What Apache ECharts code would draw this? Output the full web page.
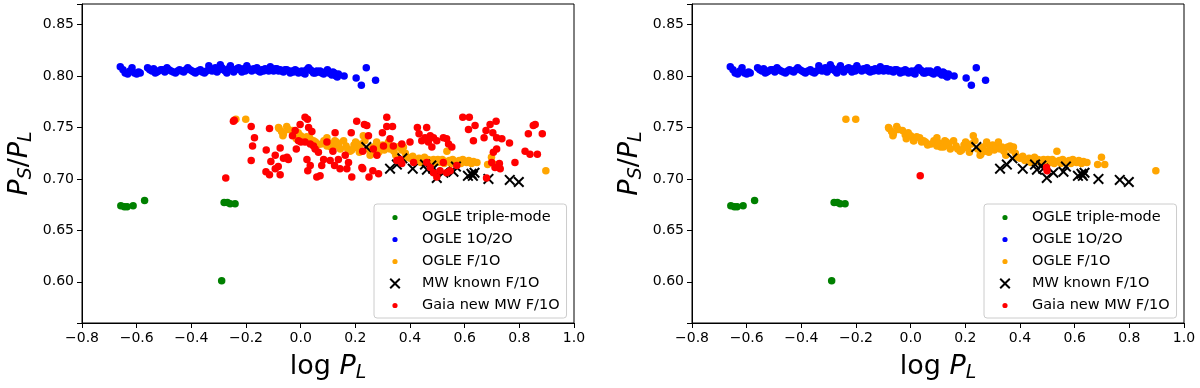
<!DOCTYPE html>
<html>
<head>
<meta charset="utf-8">
<script src="https://cdn.jsdelivr.net/npm/echarts@6/dist/echarts.min.js"></script>
<style>
html, body { margin: 0; padding: 0; background: #fff; }
#chart { width: 1200px; height: 388px; }
</style>
</head>
<body>
<div id="chart"></div>
<script>
// series names and colours (matplotlib named colours)
var names = ['OGLE triple-mode', 'OGLE 1O/2O', 'OGLE F/1O', 'MW known F/1O', 'Gaia new MW F/1O'];
var colors = ['#008000', '#0000ff', '#ffa500', '#000000', '#ff0000'];

// axis ranges
var xMin = -0.8, xMax = 1.0, xStep = 0.2;
var yMin = 0.56, yMax = 0.87, yStep = 0.05;

// [log P_L, P_S/P_L]
var tripleMode = [
    [-0.658, 0.674], [-0.645, 0.673], [-0.635, 0.673], [-0.613, 0.674], [-0.571, 0.679],
    [-0.280, 0.677], [-0.268, 0.677], [-0.258, 0.676], [-0.240, 0.676], [-0.289, 0.601]
];

var ogle1O2O = [
    [-0.660, 0.809], [-0.650, 0.806], [-0.642, 0.803], [-0.633, 0.802], [-0.625, 0.805], [-0.617, 0.808], [-0.608, 0.803], [-0.600, 0.802], [-0.593, 0.804], [-0.587, 0.803],
    [-0.560, 0.808], [-0.552, 0.806], [-0.544, 0.805], [-0.538, 0.807], [-0.532, 0.803], [-0.526, 0.804], [-0.520, 0.805], [-0.512, 0.806], [-0.504, 0.806], [-0.497, 0.804],
    [-0.489, 0.808], [-0.482, 0.806], [-0.474, 0.805], [-0.466, 0.804], [-0.458, 0.803], [-0.450, 0.805], [-0.443, 0.806], [-0.435, 0.805], [-0.428, 0.804], [-0.420, 0.806],
    [-0.413, 0.808], [-0.405, 0.806], [-0.397, 0.805], [-0.391, 0.804], [-0.385, 0.803], [-0.376, 0.805], [-0.367, 0.806], [-0.360, 0.804], [-0.352, 0.803], [-0.344, 0.805],
    [-0.336, 0.810], [-0.330, 0.807], [-0.324, 0.805], [-0.318, 0.806], [-0.312, 0.808], [-0.306, 0.804], [-0.300, 0.806], [-0.294, 0.811], [-0.288, 0.808], [-0.282, 0.806],
    [-0.276, 0.805], [-0.270, 0.803], [-0.264, 0.807], [-0.257, 0.810], [-0.250, 0.806], [-0.245, 0.804], [-0.239, 0.806], [-0.233, 0.807], [-0.227, 0.808], [-0.221, 0.806],
    [-0.215, 0.804], [-0.209, 0.807], [-0.203, 0.805], [-0.197, 0.810], [-0.190, 0.807], [-0.184, 0.806], [-0.179, 0.805], [-0.172, 0.807], [-0.166, 0.806], [-0.160, 0.808],
    [-0.154, 0.805], [-0.148, 0.804], [-0.142, 0.806], [-0.136, 0.805], [-0.130, 0.807], [-0.124, 0.806], [-0.117, 0.805], [-0.111, 0.809], [-0.105, 0.806], [-0.099, 0.805],
    [-0.093, 0.807], [-0.087, 0.807], [-0.081, 0.805], [-0.075, 0.806], [-0.069, 0.805], [-0.063, 0.804], [-0.057, 0.806], [-0.051, 0.806], [-0.044, 0.805], [-0.038, 0.803],
    [-0.032, 0.805], [-0.026, 0.804], [-0.020, 0.806], [-0.014, 0.805], [-0.008, 0.803], [-0.002, 0.804], [0.004, 0.805], [0.010, 0.803], [0.016, 0.802], [0.022, 0.806],
    [0.029, 0.808], [0.035, 0.806], [0.041, 0.805], [0.047, 0.803], [0.053, 0.803], [0.059, 0.805], [0.065, 0.804], [0.071, 0.805], [0.077, 0.803], [0.084, 0.802],
    [0.090, 0.804], [0.098, 0.806], [0.103, 0.803], [0.108, 0.803], [0.114, 0.801], [0.118, 0.804], [0.123, 0.803], [0.126, 0.801], [0.130, 0.800], [0.134, 0.799],
    [0.138, 0.802], [0.159, 0.800], [0.203, 0.798], [0.222, 0.791], [0.240, 0.808], [0.274, 0.796]
];

var ogleF1O = [
    [-0.237, 0.758], [-0.201, 0.758],
    [-0.081, 0.750], [-0.079, 0.749], [-0.070, 0.746], [-0.065, 0.742], [-0.063, 0.744], [-0.051, 0.751], [-0.045, 0.748], [-0.030, 0.747],
    [-0.020, 0.743], [-0.016, 0.739], [-0.009, 0.745], [0.000, 0.742], [0.010, 0.737], [0.012, 0.737], [0.022, 0.741], [0.033, 0.740], [0.040, 0.736], [0.047, 0.737],
    [0.054, 0.736], [0.062, 0.733], [0.075, 0.734], [0.085, 0.737], [0.096, 0.740], [0.096, 0.732], [0.104, 0.735], [0.110, 0.731], [0.120, 0.731], [0.125, 0.737],
    [0.131, 0.736], [0.138, 0.733], [0.145, 0.729], [0.157, 0.737], [0.166, 0.732], [0.172, 0.729], [0.181, 0.727], [0.187, 0.728], [0.195, 0.733], [0.201, 0.736],
    [0.208, 0.730], [0.215, 0.726], [0.222, 0.734], [0.229, 0.742], [0.235, 0.737], [0.245, 0.729], [0.254, 0.723], [0.257, 0.724], [0.265, 0.731], [0.271, 0.727],
    [0.278, 0.736], [0.279, 0.734], [0.286, 0.726], [0.292, 0.729], [0.300, 0.733], [0.306, 0.728], [0.313, 0.732], [0.321, 0.736], [0.327, 0.729], [0.334, 0.731],
    [0.341, 0.727], [0.348, 0.723], [0.355, 0.731], [0.364, 0.732], [0.370, 0.728], [0.376, 0.731], [0.383, 0.725], [0.390, 0.721], [0.400, 0.720], [0.410, 0.722],
    [0.418, 0.718], [0.425, 0.719], [0.433, 0.720], [0.440, 0.716], [0.446, 0.719], [0.453, 0.721], [0.460, 0.717], [0.466, 0.719], [0.474, 0.718], [0.480, 0.715],
    [0.486, 0.719], [0.493, 0.716], [0.502, 0.719], [0.510, 0.716], [0.518, 0.719], [0.525, 0.715], [0.530, 0.717], [0.535, 0.727], [0.544, 0.718], [0.550, 0.715],
    [0.556, 0.719], [0.565, 0.717], [0.572, 0.716], [0.580, 0.718], [0.586, 0.715], [0.593, 0.719], [0.600, 0.717], [0.607, 0.716], [0.615, 0.718], [0.625, 0.715],
    [0.632, 0.717], [0.645, 0.716], [0.684, 0.714], [0.698, 0.721], [0.710, 0.714], [0.897, 0.708]
];

var mwKnown = [
    [0.240, 0.731], [0.327, 0.710], [0.352, 0.714], [0.372, 0.720], [0.410, 0.710], [0.455, 0.714], [0.462, 0.709], [0.478, 0.713], [0.485, 0.710], [0.498, 0.701],
    [0.522, 0.706], [0.559, 0.707], [0.568, 0.712], [0.612, 0.703], [0.625, 0.705], [0.636, 0.706], [0.630, 0.703], [0.687, 0.700], [0.765, 0.699], [0.798, 0.697]
];

// Gaia candidates, left panel (all) and right panel (kept)
var gaiaAll = [
    [-0.274, 0.701], [-0.246, 0.756], [-0.243, 0.757], [-0.181, 0.751], [-0.169, 0.740], [-0.176, 0.732], [-0.181, 0.718], [-0.126, 0.728], [-0.127, 0.707], [-0.114, 0.749],
    [-0.114, 0.704], [-0.109, 0.717], [-0.093, 0.723], [-0.093, 0.710], [-0.075, 0.730], [-0.075, 0.704], [-0.063, 0.720], [-0.050, 0.721], [-0.045, 0.719], [-0.020, 0.747],
    [-0.016, 0.729], [-0.008, 0.737], [-0.002, 0.753], [0.001, 0.736], [0.016, 0.760], [0.016, 0.736], [0.025, 0.758], [0.029, 0.750], [0.035, 0.734], [0.047, 0.732],
    [0.023, 0.719], [0.035, 0.713], [0.041, 0.746], [0.026, 0.708], [0.059, 0.702], [0.071, 0.703], [0.053, 0.729], [0.065, 0.726], [0.077, 0.713], [0.084, 0.719],
    [0.096, 0.736], [0.126, 0.745], [0.118, 0.727], [0.108, 0.718], [0.124, 0.713], [0.138, 0.719], [0.144, 0.710], [0.169, 0.710], [0.163, 0.723], [0.175, 0.716],
    [0.185, 0.745], [0.205, 0.756], [0.224, 0.711], [0.233, 0.753], [0.242, 0.752], [0.248, 0.742], [0.227, 0.727], [0.250, 0.702], [0.266, 0.729], [0.279, 0.723],
    [0.285, 0.705], [0.299, 0.745], [0.315, 0.760], [0.315, 0.751], [0.336, 0.751], [0.327, 0.739], [0.303, 0.732], [0.339, 0.732], [0.352, 0.718], [0.364, 0.719],
    [0.370, 0.715], [0.370, 0.734], [0.400, 0.736], [0.413, 0.716], [0.427, 0.750], [0.433, 0.744], [0.443, 0.737], [0.461, 0.750], [0.455, 0.740], [0.467, 0.736],
    [0.474, 0.742], [0.486, 0.740], [0.480, 0.731], [0.498, 0.737], [0.522, 0.740], [0.534, 0.739], [0.541, 0.734], [0.553, 0.731], [0.461, 0.716], [0.474, 0.711],
    [0.486, 0.706], [0.498, 0.702], [0.522, 0.716], [0.510, 0.708], [0.534, 0.706], [0.547, 0.708], [0.571, 0.713], [0.593, 0.760], [0.617, 0.760], [0.614, 0.748],
    [0.638, 0.752], [0.632, 0.737], [0.671, 0.740], [0.678, 0.747], [0.693, 0.753], [0.715, 0.756], [0.703, 0.745], [0.717, 0.740], [0.736, 0.739], [0.764, 0.735],
    [0.705, 0.726], [0.717, 0.729], [0.699, 0.716], [0.711, 0.711], [0.727, 0.715], [0.730, 0.710], [0.784, 0.716], [0.821, 0.727], [0.839, 0.724], [0.866, 0.724],
    [0.833, 0.744], [0.851, 0.752], [0.858, 0.753], [0.884, 0.744], [0.680, 0.701], [0.264, 0.708], [0.227, 0.710], [0.187, 0.702], [-0.030, 0.742], [-0.082, 0.712]
];
var gaiaKept = [[0.035, 0.703], [0.497, 0.711], [0.499, 0.708]];

var panelLeft = [82, 692];
var font = 'DejaVu Sans, sans-serif';

var circleIcon = 'path://M0,0L0.01,0M14,14L13.99,14M9.6,7A2.6,2.6,0,1,1,4.4,7A2.6,2.6,0,1,1,9.6,7Z';
var crossIcon = 'path://M0,0L0.01,0M14,14L13.99,14M1.5,2.9L2.9,1.5L7,5.6L11.1,1.5L12.5,2.9L8.4,7L12.5,11.1L11.1,12.5L7,8.4L2.9,12.5L1.5,11.1L5.6,7Z';
var crossSymbol = 'path://M0,1.4L1.4,0L5.5,4.1L9.6,0L11,1.4L6.9,5.5L11,9.6L9.6,11L5.5,6.9L1.4,11L0,9.6L4.1,5.5Z';
var icons = [circleIcon, circleIcon, circleIcon, crossIcon, circleIcon];

var rich = {
    n: { fontSize: 27, fontFamily: font, color: '#000' },
    i: { fontSize: 27, fontFamily: font, fontStyle: 'italic', color: '#000' },
    s: { fontSize: 19, fontFamily: font, fontStyle: 'italic', color: '#000', padding: [14, 0, 0, 0] }
};

function fmtX(v) {
    if (Math.abs(v) < 1e-9) return '0.0';
    return v.toFixed(1).replace('-', '\u2212');
}
function fmtY(v) {
    var k = v / yStep;
    return Math.abs(k - Math.round(k)) < 1e-6 ? v.toFixed(2) : '';
}

var grids = [], xAxes = [], yAxes = [], legends = [], series = [];
[0, 1].forEach(function (p) {
    grids.push({ left: panelLeft[p], top: 4, width: 492, height: 320, show: true, borderColor: '#000', borderWidth: 1 });
    xAxes.push({
        gridIndex: p, type: 'value', min: xMin, max: xMax, interval: xStep,
        axisLine: { onZero: false, lineStyle: { color: '#000', width: 1 } },
        axisTick: { length: 5, lineStyle: { color: '#000' } },
        splitLine: { show: false },
        axisLabel: { color: '#000', fontSize: 14, fontFamily: font, margin: 8, formatter: fmtX },
        name: '{n|log }{i|P}{s|L}', nameLocation: 'middle', nameGap: 27,
        nameTextStyle: { rich: rich }
    });
    yAxes.push({
        gridIndex: p, type: 'value', min: yMin, max: yMax, minInterval: yStep, maxInterval: yStep,
        axisLine: { onZero: false, lineStyle: { color: '#000', width: 1 } },
        axisTick: { length: 5, lineStyle: { color: '#000' } },
        splitLine: { show: false },
        axisLabel: { color: '#000', fontSize: 14, fontFamily: font, margin: 8, formatter: fmtY },
        name: '{i|P}{s|S}{n|/}{i|P}{s|L}', nameLocation: 'middle', nameGap: 46,
        nameTextStyle: { rich: rich }
    });
    legends.push({
        left: 374 + (panelLeft[p] - panelLeft[0]), top: 204, orient: 'vertical',
        itemWidth: 44, itemHeight: 14, itemGap: 7, padding: [6, 7, 5, 14],
        symbolKeepAspect: true, selectedMode: false,
        backgroundColor: 'rgba(255,255,255,0.8)', borderColor: '#cccccc', borderWidth: 1, borderRadius: 3,
        textStyle: { fontSize: 14.5, fontFamily: font, color: '#000' },
        data: names.map(function (n, i) { return { name: n, icon: icons[i] }; })
    });
    var sets = [tripleMode, ogle1O2O, ogleF1O, mwKnown, p === 0 ? gaiaAll : gaiaKept];
    sets.forEach(function (d, i) {
        series.push({
            name: names[i], type: 'scatter', xAxisIndex: p, yAxisIndex: p,
            data: d,
            symbol: i === 3 ? crossSymbol : 'circle',
            symbolSize: i === 3 ? 11 : 7.5,
            itemStyle: { color: colors[i], opacity: 1 },
            emphasis: { disabled: true }
        });
    });
});

var chart = echarts.init(document.getElementById('chart'), null, { renderer: 'canvas' });
chart.setOption({
    animation: false,
    backgroundColor: '#fff',
    grid: grids,
    xAxis: xAxes,
    yAxis: yAxes,
    legend: legends,
    series: series
});
</script>
</body>
</html>
